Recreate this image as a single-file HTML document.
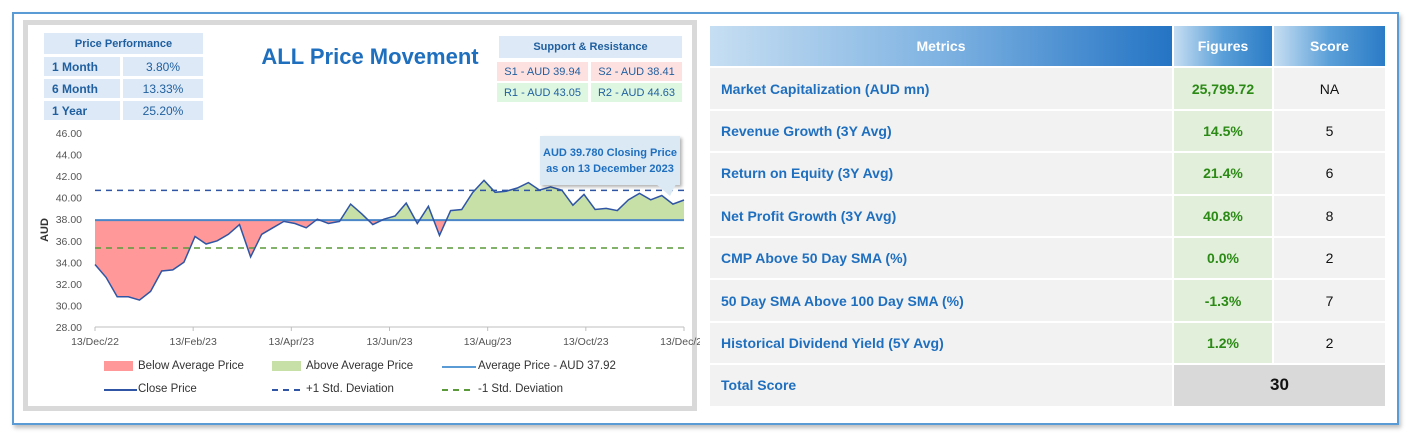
<!DOCTYPE html>
<html><head><meta charset="utf-8"><style>
*{margin:0;padding:0;box-sizing:border-box}
body{width:1412px;height:437px;background:#fff;font-family:"Liberation Sans",sans-serif;position:relative;overflow:hidden}
.abs{position:absolute}
.frame{left:12px;top:12px;width:1387px;height:413px;border:2px solid #5b9bd5;box-shadow:2px 3px 4px rgba(0,0,0,.25)}
.panel{left:23px;top:20px;width:674px;height:391px;border:5px solid #d9d9d9;background:#fff}
.cell{position:absolute;background:#dde9f6;color:#1f5f9f;font-size:12px;font-weight:bold;display:flex;align-items:center}
.sr{position:absolute;font-size:11px;color:#1f5f9f;display:flex;align-items:center;justify-content:center}
table{position:absolute;left:708px;top:24px;width:679px;border-collapse:collapse}
td,th{height:42.4px;border:2px solid #fff;font-size:14px}
th{color:#fff;font-weight:bold;font-size:14px}
td.m{background:#f2f2f2;color:#1f6fbf;font-weight:bold;padding-left:11px}
td.f{background:#e2efda;color:#2b8a15;font-weight:bold;text-align:center}
td.s{background:#f2f2f2;color:#111;text-align:center}
.leg{font-size:11.5px;color:#333}
</style></head><body>
<div class="abs frame"></div>
<div class="abs panel"></div>

<div class="cell" style="left:44px;top:33px;width:159px;height:21px;justify-content:center;font-size:11px">Price Performance</div>
<div class="cell" style="left:44px;top:57px;width:76px;height:19px;padding-left:8px">1 Month</div>
<div class="cell" style="left:123px;top:57px;width:80px;height:19px;justify-content:center;font-weight:normal">3.80%</div>
<div class="cell" style="left:44px;top:79px;width:76px;height:19px;padding-left:8px">6 Month</div>
<div class="cell" style="left:123px;top:79px;width:80px;height:19px;justify-content:center;font-weight:normal">13.33%</div>
<div class="cell" style="left:44px;top:101px;width:76px;height:19px;padding-left:8px">1 Year</div>
<div class="cell" style="left:123px;top:101px;width:80px;height:19px;justify-content:center;font-weight:normal">25.20%</div>

<div class="abs" style="left:240px;top:44px;width:260px;text-align:center;font-size:22px;font-weight:bold;color:#1f6fbf">ALL Price Movement</div>

<div class="cell" style="left:499px;top:36px;width:183px;height:22px;justify-content:center;font-size:11px">Support &amp; Resistance</div>
<div class="sr" style="left:497px;top:62px;width:91px;height:19px;background:#fde0e0">S1 - AUD 39.94</div>
<div class="sr" style="left:591px;top:62px;width:91px;height:19px;background:#fde0e0">S2 - AUD 38.41</div>
<div class="sr" style="left:497px;top:83px;width:91px;height:19px;background:#ddf7e0">R1 - AUD 43.05</div>
<div class="sr" style="left:591px;top:83px;width:91px;height:19px;background:#ddf7e0">R2 - AUD 44.63</div>

<svg class="abs" style="left:0;top:0" width="700" height="437">
<g id="chart"></g>
</svg>

<div class="abs" style="left:540px;top:136px;width:140px;height:49px;background:#dbe9f5;box-shadow:2px 2px 3px rgba(0,0,0,.3);color:#1f6fbf;font-size:11px;font-weight:bold;text-align:center;line-height:16px;padding-top:9px">AUD 39.780 Closing Price<br>as on 13 December 2023</div>
<svg class="abs" style="left:650px;top:184px" width="30" height="16"><polygon points="6,0 26,0 20,12" fill="#dbe9f5"/></svg>

<div class="abs leg" style="left:104px;top:361px;width:29px;height:10px;background:#ff9999"></div>
<div class="abs leg" style="left:138px;top:360px">Below Average Price</div>
<div class="abs leg" style="left:272px;top:361px;width:29px;height:10px;background:#c6e0a8"></div>
<div class="abs leg" style="left:306px;top:360px">Above Average Price</div>
<div class="abs" style="left:442px;top:366px;width:34px;height:2px;background:#5b9bd5"></div>
<div class="abs leg" style="left:478px;top:360px">Average Price - AUD 37.92</div>
<div class="abs" style="left:104px;top:389px;width:33px;height:2px;background:#2f55a4"></div>
<div class="abs leg" style="left:138px;top:383px">Close Price</div>
<div class="abs" style="left:272px;top:389px;width:33px;height:2px;background:repeating-linear-gradient(90deg,#2f55a4 0 6px,transparent 6px 11px)"></div>
<div class="abs leg" style="left:306px;top:383px">+1 Std. Deviation</div>
<div class="abs" style="left:442px;top:389px;width:33px;height:2px;background:repeating-linear-gradient(90deg,#5a9a3a 0 6px,transparent 6px 11px)"></div>
<div class="abs leg" style="left:478px;top:383px">-1 Std. Deviation</div>

<table>
<tr><th style="width:464px;background:linear-gradient(90deg,#c6def2,#7fb3e2 50%,#2474c4)">Metrics</th><th style="width:100px;background:linear-gradient(90deg,#c6def2,#5a9fd8 50%,#2a7bc6)">Figures</th><th style="background:linear-gradient(90deg,#c6def2,#5a9fd8 50%,#2a7bc6)">Score</th></tr>
<tr><td class="m">Market Capitalization (AUD mn)</td><td class="f">25,799.72</td><td class="s">NA</td></tr>
<tr><td class="m">Revenue Growth (3Y Avg)</td><td class="f">14.5%</td><td class="s">5</td></tr>
<tr><td class="m">Return on Equity (3Y Avg)</td><td class="f">21.4%</td><td class="s">6</td></tr>
<tr><td class="m">Net Profit Growth (3Y Avg)</td><td class="f">40.8%</td><td class="s">8</td></tr>
<tr><td class="m">CMP Above 50 Day SMA (%)</td><td class="f">0.0%</td><td class="s">2</td></tr>
<tr><td class="m">50 Day SMA Above 100 Day SMA (%)</td><td class="f">-1.3%</td><td class="s">7</td></tr>
<tr><td class="m">Historical Dividend Yield (5Y Avg)</td><td class="f">1.2%</td><td class="s">2</td></tr>
<tr><td class="m">Total Score</td><td colspan="2" style="background:#d9d9d9;text-align:center;font-weight:bold;font-size:17px;color:#111">30</td></tr>
</table>

<script>
const closePrices=[33.8,32.6,30.8,30.8,30.5,31.3,33.2,33.3,34.0,36.4,35.7,36.0,36.6,37.5,34.5,36.6,37.2,37.8,37.6,37.2,38.0,37.6,37.8,39.4,38.5,37.5,38.0,38.3,39.5,37.6,39.2,36.5,38.8,38.9,40.5,41.6,40.5,40.6,40.9,41.4,40.7,41.0,40.7,39.3,40.3,38.9,39.0,38.8,39.8,40.4,39.8,40.2,39.4,39.78];
const averagePrice=37.92;
const plusStd=40.68;
const minusStd=35.33;
const yTicks=[28,30,32,34,36,38,40,42,44,46];
const xTickLabels=["13/Dec/22","13/Feb/23","13/Apr/23","13/Jun/23","13/Aug/23","13/Oct/23","13/Dec/23"];
const X0=95,X1=684,Y0=327,Y1=133;
const xs=i=>X0+(X1-X0)*i/(closePrices.length-1);
const ys=v=>Y0+(Y1-Y0)*(v-28)/(46-28);
const NS="http://www.w3.org/2000/svg";
const g=document.getElementById('chart');
function mk(t,a){const e=document.createElementNS(NS,t);for(const k in a)e.setAttribute(k,a[k]);g.appendChild(e);return e;}
const defs=mk('defs',{});
defs.innerHTML=`<clipPath id="ca"><rect x="0" y="0" width="700" height="${ys(averagePrice)}"/></clipPath><clipPath id="cb"><rect x="0" y="${ys(averagePrice)}" width="700" height="400"/></clipPath>`;
const pts=closePrices.map((v,i)=>xs(i).toFixed(1)+','+ys(v).toFixed(1)).join(' ');
const area=pts+` ${X1},${ys(averagePrice)} ${X0},${ys(averagePrice)}`;
let e=mk('polygon',{points:area,fill:'#ff9999','clip-path':'url(#cb)'});


e=mk('polygon',{points:area,fill:'#c6e0a8','clip-path':'url(#ca)'});


e=mk('line',{x1:X0,x2:X1,y1:Y0,y2:Y0,stroke:'#bfbfbf'});


yTicks.forEach(v=>{const t=mk('text',{x:82,y:ys(v)+4,'text-anchor':'end','font-size':'10.5',fill:'#555'});t.textContent=v.toFixed(2);

});
xTickLabels.forEach((s,i)=>{const x=X0+(X1-X0)*i/(xTickLabels.length-1);
mk('line',{x1:x,x2:x,y1:Y0,y2:Y0+4,stroke:'#bfbfbf'});
const t=mk('text',{x:x,y:345,'text-anchor':'middle','font-size':'10.5',fill:'#555'});t.textContent=s;

});
const yt=mk('text',{x:0,y:0,transform:`translate(48,${ys(37)}) rotate(-90)`,'text-anchor':'middle','font-size':'11','font-weight':'bold',fill:'#333'});yt.textContent='AUD';


e=mk('line',{x1:X0,x2:X1,y1:ys(averagePrice),y2:ys(averagePrice),stroke:'#4a86c8','stroke-width':2});


e=mk('line',{x1:X0,x2:X1,y1:ys(plusStd),y2:ys(plusStd),stroke:'#2f55a4','stroke-width':1.5,'stroke-dasharray':'6,5'});


e=mk('line',{x1:X0,x2:X1,y1:ys(minusStd),y2:ys(minusStd),stroke:'#5a9a3a','stroke-width':1.5,'stroke-dasharray':'6,5'});


e=mk('polyline',{points:pts,fill:'none',stroke:'#2f55a4','stroke-width':1.5});


</script>
</body></html>
